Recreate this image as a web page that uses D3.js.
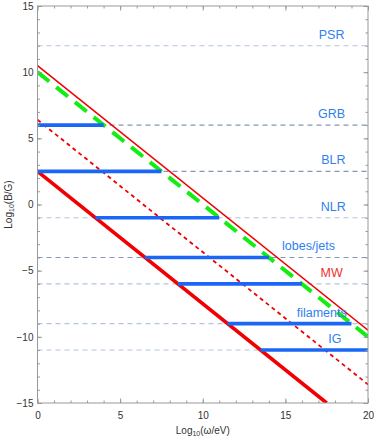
<!DOCTYPE html>
<html>
<head>
<meta charset="utf-8">
<script src="https://cdn.jsdelivr.net/npm/d3@7"></script>
<style>
  body { margin: 0; background: #fff; }
  svg { font-family: "Liberation Sans", Arial, sans-serif; }
  .axis path { stroke: none; }
  .axis line { stroke: #999; }
  .axis text { fill: #333; font-size: 10px; }
</style>
</head>
<body>
<div id="chart"></div>
<script>
// environments: name, log10(B/G)
const envNames = ["PSR", "GRB", "BLR", "NLR", "lobes/jets", "MW", "filaments", "IG"];
const envB = [12, 6, 2.5, -1, -4, -6, -9, -11];
const envLabelX = [17.8, 17.8, 17.9, 17.9, 16.4, 17.8, 17.2, 18];
// which dashed reference lines are drawn darker
const envDark = [false, true, true, false, true, false, false, false];

// blue ranges: log10(omega/eV) start / end for each environment (PSR has none)
const segStart = [null, 0, 0, 3.5, 6.5, 8.5, 11.5, 13.5];
const segEnd = [null, 4, 7.5, 11, 14, 16, 19, 20];

// diagonal bounds: intercept at log10(omega)=0, slope -1
const thickRed = [[0, 2.5], [17.5, -15]];
const thinRed = [[0, 10.5], [20, -9.5]];
const dottedRed = [[0, 6.4], [20, -13.6]];
const greenDash = [[0, 10], [20, -10]];

const xTicks = [0, 5, 10, 15, 20];
const yTicks = [-15, -10, -5, 0, 5, 10, 15];

const W = 374, H = 438;
const margin = {top: 6, right: 6, bottom: 35, left: 37.5};
const width = W - margin.left - margin.right;
const height = H - margin.top - margin.bottom;

const svg = d3.select("#chart").append("svg").attr("width", W).attr("height", H);
const g = svg.append("g").attr("transform", `translate(${margin.left},${margin.top})`);

const x = d3.scaleLinear().domain([0, 20]).range([0, width]);
const y = d3.scaleLinear().domain([-15, 15]).range([height, 0]);

g.append("clipPath").attr("id", "clip").append("rect").attr("width", width).attr("height", height);
const plot = g.append("g").attr("clip-path", "url(#clip)");

// --- dashed reference lines ---
plot.selectAll(".ref").data(envB).enter().append("line")
    .attr("x1", x(0)).attr("x2", x(20))
    .attr("y1", d => y(d)).attr("y2", d => y(d))
    .attr("stroke", (d, i) => envDark[i] ? "#8597b5" : "#b3c3dd")
    .attr("stroke-width", 1.1)
    .attr("stroke-dasharray", "5,4");

// --- diagonal lines ---
const line = d3.line().x(d => x(d[0])).y(d => y(d[1]));
plot.append("path").datum(thickRed).attr("d", line).attr("stroke", "#f00000").attr("stroke-width", 3.6).attr("fill", "none");
plot.append("path").datum(thinRed).attr("d", line).attr("stroke", "#f00000").attr("stroke-width", 1.5).attr("fill", "none");
plot.append("path").datum(dottedRed).attr("d", line).attr("stroke", "#f00000").attr("stroke-width", 1.8)
    .attr("stroke-dasharray", "4,3.5").attr("fill", "none");
plot.append("path").datum(greenDash).attr("d", line).attr("stroke", "#11ee11").attr("stroke-width", 4)
    .attr("stroke-dasharray", "15,9").attr("fill", "none");

// --- blue ranges ---
const segs = envB.map((b, i) => ({b, s: segStart[i], e: segEnd[i]})).filter(d => d.s !== null);
plot.selectAll(".seg").data(segs).enter().append("line")
    .attr("x1", d => x(d.s)).attr("x2", d => x(d.e))
    .attr("y1", d => y(d.b)).attr("y2", d => y(d.b))
    .attr("stroke", "#1a66f5").attr("stroke-width", 3.6);

// --- labels ---
g.selectAll(".lbl").data(envNames).enter().append("text")
    .attr("x", (d, i) => x(envLabelX[i]))
    .attr("y", (d, i) => y(envB[i]) - 7)
    .attr("text-anchor", "middle")
    .attr("font-size", 12.5)
    .attr("fill", d => d === "MW" ? "#f03030" : "#2f7ff0")
    .text(d => d);

// --- frame + ticks ---
g.append("rect").attr("width", width).attr("height", height).attr("fill", "none").attr("stroke", "#999").attr("stroke-width", 1);

const minorX = d3.range(0, 21), minorY = d3.range(-15, 16);
g.append("g").attr("class", "axis").attr("transform", `translate(0,${height})`)
    .call(d3.axisBottom(x).tickValues(minorX).tickSize(-2.5).tickFormat(""));
g.append("g").attr("class", "axis").attr("transform", `translate(0,${height})`)
    .call(d3.axisBottom(x).tickValues(xTicks).tickSize(-4.5).tickPadding(9).tickFormat(d3.format("d")));
g.append("g").attr("class", "axis")
    .call(d3.axisTop(x).tickValues(minorX).tickSize(-2.5).tickFormat(""));
g.append("g").attr("class", "axis")
    .call(d3.axisTop(x).tickValues(xTicks).tickSize(-4.5).tickFormat(""));
g.append("g").attr("class", "axis")
    .call(d3.axisLeft(y).tickValues(minorY).tickSize(-2.5).tickFormat(""));
g.append("g").attr("class", "axis")
    .call(d3.axisLeft(y).tickValues(yTicks).tickSize(-4.5).tickPadding(4).tickFormat(d => d < 0 ? "\u2212" + (-d) : d));
g.append("g").attr("class", "axis").attr("transform", `translate(${width},0)`)
    .call(d3.axisRight(y).tickValues(minorY).tickSize(-2.5).tickFormat(""));
g.append("g").attr("class", "axis").attr("transform", `translate(${width},0)`)
    .call(d3.axisRight(y).tickValues(yTicks).tickSize(-4.5).tickFormat(""));

// --- axis titles ---
const xt = svg.append("text").attr("x", margin.left + width / 2).attr("y", 434)
    .attr("text-anchor", "middle").attr("font-size", 10).attr("fill", "#333");
xt.append("tspan").text("Log");
xt.append("tspan").attr("font-size", 7).attr("dy", 2).text("10");
xt.append("tspan").attr("dy", -2).text("(\u03c9/eV)");

const yt = svg.append("text").attr("transform", `translate(11.5,${margin.top + height / 2}) rotate(-90)`)
    .attr("text-anchor", "middle").attr("font-size", 10).attr("fill", "#333");
yt.append("tspan").text("Log");
yt.append("tspan").attr("font-size", 7).attr("dy", 2).text("10");
yt.append("tspan").attr("dy", -2).text("(B/G)");
</script>
</body>
</html>
